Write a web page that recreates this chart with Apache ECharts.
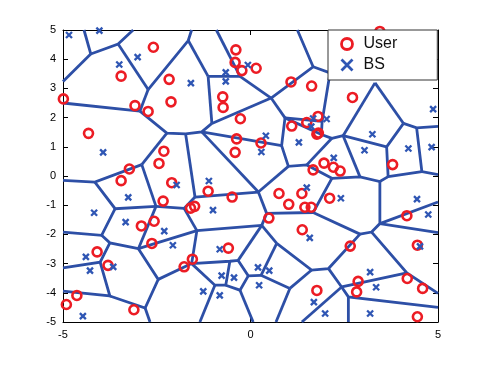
<!DOCTYPE html>
<html>
<head>
<meta charset="utf-8">
<script src="https://cdn.jsdelivr.net/npm/echarts@6/dist/echarts.min.js"></script>
<style>html,body{margin:0;padding:0;background:#fff;}#c{width:485px;height:367px;}</style>
</head>
<body>
<div id="c"></div>
<script>
// ---- data ----
var xTicks = [-5, 0, 5];
var yTicks = [-5, -4, -3, -2, -1, 0, 1, 2, 3, 4, 5];

var users = [
  [-2.59,4.41],[-3.45,3.42],[-2.17,3.31],[-4.99,2.64],[-2.12,2.54],[-3.08,2.41],[-2.73,2.21],
  [-4.32,1.46],[-2.31,0.85],[-2.44,0.43],[-3.23,0.24],[-0.39,4.32],[-0.41,3.89],[-0.23,3.61],
  [0.15,3.69],[-0.74,2.71],[-0.73,2.35],[-0.27,1.96],[-0.37,1.27],[-0.41,0.81],[1.08,3.22],
  [1.63,3.08],[2.72,2.69],[3.45,4.95],[1.80,2.04],[1.50,1.83],[1.10,1.71],[1.77,1.43],[1.81,1.47],
  [0.28,1.13],[1.67,0.21],[1.96,0.44],[2.21,0.30],[2.39,0.17],[3.79,0.39],
  [-3.45,-0.16],[-2.10,-0.23],[-2.33,-0.86],[-1.60,-1.10],[-1.49,-1.04],[-2.57,-1.55],[-2.91,-1.71],
  [-2.63,-2.31],[-4.09,-2.60],[-3.80,-3.06],[-4.63,-4.09],[-4.91,-4.40],[-3.11,-4.58],[-1.55,-2.85],
  [-1.77,-3.11],[-1.13,-0.52],[-0.49,-0.72],[-0.59,-2.47],[0.76,-0.60],[1.37,-0.60],[1.02,-0.97],
  [1.45,-1.07],[1.62,-1.07],[0.49,-1.44],[1.38,-1.84],[2.11,-0.76],[4.17,-1.36],[4.45,-2.37],
  [2.66,-2.40],[2.87,-3.61],[2.83,-3.97],[1.77,-3.92],[4.18,-3.51],[4.59,-3.85],[4.45,-4.82]
];

var bs = [
  [-4.84,4.83],[-4.03,4.98],[-3.01,4.07],[-3.50,3.82],[-1.59,3.18],[-0.66,3.55],[-0.66,3.24],
  [-0.07,3.80],[-3.93,0.81],[-1.11,-0.17],[1.67,1.97],[2.03,1.95],[1.62,1.69],[0.41,1.38],
  [0.29,0.82],[1.29,1.15],[2.22,0.62],[3.25,1.43],[3.04,0.88],[4.21,0.94],[4.83,0.99],[4.87,2.29],
  [-1.97,-0.31],[-3.26,-0.73],[-4.17,-1.26],[-3.33,-1.58],[-2.30,-1.89],[-2.07,-2.37],[-4.39,-2.77],
  [-4.28,-3.24],[-3.66,-3.11],[-4.47,-4.80],[-1.00,-1.17],[-0.82,-2.51],[-0.77,-3.41],[-0.44,-3.48],
  [-1.26,-3.95],[-0.82,-4.09],[0.20,-3.13],[0.50,-3.24],[0.23,-3.74],[1.50,-0.40],[2.41,-0.76],
  [1.58,-2.12],[4.44,-0.79],[4.74,-1.32],[4.52,-2.41],[3.19,-3.29],[3.35,-3.81],[1.69,-4.32],
  [1.99,-4.71],[3.19,-4.71]
];

// cell-boundary vertices (data units) and the polylines joining them
var vertices = {
  a:[-4.44,5.00], b:[-4.26,4.18], c:[-5.00,3.24], d:[-3.53,4.52], e:[-3.13,5.00], f:[-2.73,2.96],
  g:[-1.66,4.64], h:[-1.57,5.00], i:[-1.13,3.41], j:[-2.95,2.22], k:[-5.00,2.50], l:[-2.23,1.47],
  m:[-1.73,1.44], n:[-1.30,1.51], o:[-1.03,1.80], p:[-2.90,0.39], q:[-4.15,-0.21], r:[-5.00,-0.15],
  s:[-2.52,-1.04], t:[-0.91,5.00], u:[-0.28,3.41], v:[0.55,2.67], w:[1.67,3.74], x:[1.25,5.00],
  y:[2.12,3.53], z:[0.92,1.99], A:[1.91,1.87], B:[1.89,1.42], C:[2.17,1.29], D:[2.47,1.38],
  E:[3.32,3.19], F:[4.08,1.80], G:[3.63,1.00], H:[4.43,1.65], I:[5.00,1.70], J:[4.57,0.15],
  K:[5.00,0.05], L:[3.67,-0.02], M:[3.45,-0.19], N:[2.92,-0.03], O:[2.17,-0.08], P:[0.83,1.04],
  Q:[1.01,0.33], R:[1.50,0.38], S:[0.21,-0.55], T:[-1.48,-0.72], U:[-1.77,-1.11], V:[0.43,-1.28],
  W:[1.67,-1.25], X:[0.30,-1.69], Y:[-1.43,-1.87], Z:[2.92,-1.99], a2:[3.23,-1.92], b2:[3.45,-1.63],
  c2:[5.00,-0.89], d2:[5.00,-1.94], e2:[4.17,-3.32], f2:[5.00,-4.02], g2:[2.43,-3.80], h2:[2.08,-3.17],
  i2:[2.61,-4.14], j2:[5.00,-4.50], k2:[2.61,-5.00], l2:[1.37,-5.00], m2:[1.63,-3.22], n2:[0.70,-2.31],
  o2:[1.05,-3.85], p2:[0.68,-5.00], q2:[0.28,-3.40], r2:[-0.06,-3.42], s2:[-0.33,-2.89], t2:[-0.55,-2.92],
  u2:[-1.57,-3.00], v2:[-0.66,-3.74], w2:[-0.95,-3.74], x2:[-1.35,-5.00], y2:[-0.28,-3.91], z2:[0.07,-5.00],
  a3:[-2.46,-3.54], b3:[-2.99,-2.49], c3:[-3.61,-1.12], d3:[-3.97,-2.03], e3:[-5.00,-1.92], f3:[-3.75,-2.29],
  g3:[-4.01,-2.95], h3:[-5.00,-3.15], i3:[-3.75,-4.11], j3:[-5.00,-3.94], k3:[-2.81,-4.52], l3:[-2.68,-5.00]
};
var edgePaths = [
  'a b','b c','b d e','d f','f g h','g i','f j','k j','j l m n o','l p','p q r','p s','m T',
  't u','i u','i o','u v','o v','v w x','w y','v z','z A','y A B','z B C','C D','R C','D E',
  'E F','F G D','F H I','H J K','J L G','L M N O','N D','z P Q R O','n P','n S','Q S','T S',
  'S V','V W O','W Z','V X','U T','s U','U Y','Y X','Y u2','X s2','X n2','n2 m2 h2 Z','n2 q2',
  'm2 o2','o2 q2','o2 p2','Z a2 b2 M','b2 c2','b2 d2','a2 e2 f2','e2 g2 h2','g2 i2 j2','i2 k2',
  'g2 l2','q2 r2 s2 t2 u2','t2 v2 w2 u2','w2 x2','r2 y2 v2','y2 z2','u2 a3','Y b3','s b3',
  's c3 q','c3 d3 e3','d3 f3 b3','f3 g3 h3','g3 i3 j3','i3 k3 a3 b3','k3 l3'
];

// ---- chart ----
var edgeData = edgePaths.map(function (p) {
  return { coords: p.split(' ').map(function (k) { return vertices[k]; }) };
});
var RED = '#ec1c24', BLUE = '#2d4fa6', XBLUE = '#2f56b4', XPATH = 'path://M0,0L10,10M10,0L0,10';
var FONT = 'Liberation Sans';

function axisBase(pos, showLabel, interval, ticks) {
  return {
    type: 'value', min: ticks[0], max: ticks[ticks.length - 1], interval: interval, position: pos,
    axisLine: { onZero: false, lineStyle: { color: '#000', width: 1 } },
    axisTick: { inside: true, length: 5, lineStyle: { color: '#000' } },
    axisLabel: { show: showLabel, color: '#000', fontSize: 11, fontFamily: FONT, margin: 7 },
    splitLine: { show: false }
  };
}

var chart = echarts.init(document.getElementById('c'), null, { renderer: 'canvas' });
chart.setOption({
  animation: false,
  backgroundColor: '#fff',
  grid: { left: 63, right: 47, top: 30, bottom: 45 },
  xAxis: [axisBase('bottom', true, 5, xTicks), axisBase('top', false, 5, xTicks)],
  yAxis: [axisBase('left', true, 1, yTicks), axisBase('right', false, 1, yTicks)],
  legend: {
    orient: 'vertical', left: 328, top: 30,
    backgroundColor: '#fff', borderColor: '#333', borderWidth: 1, borderRadius: 0,
    padding: [6, 40, 7, 11], itemGap: 5, itemWidth: 11, itemHeight: 11,
    textStyle: { fontSize: 16, fontFamily: FONT, color: '#111', padding: [0, 0, 0, 6] },
    data: [
      { name: 'User', icon: 'circle', itemStyle: { color: '#fff', borderColor: RED, borderWidth: 2.8, opacity: 1 } },
      { name: 'BS', icon: XPATH, itemStyle: { color: 'none', borderColor: XBLUE, borderWidth: 2.8, opacity: 1 } }
    ]
  },
  series: [
    { type: 'lines', name: 'cells', coordinateSystem: 'cartesian2d', polyline: true, silent: true,
      data: edgeData, lineStyle: { color: BLUE, width: 2.8, opacity: 1 }, z: 1 },
    { type: 'scatter', name: 'User', data: users, symbol: 'circle', symbolSize: 9,
      itemStyle: { color: 'rgba(255,255,255,0)', borderColor: RED, borderWidth: 2.6, opacity: 1 }, z: 3 },
    { type: 'scatter', name: 'BS', data: bs, symbol: XPATH, symbolSize: 6,
      itemStyle: { color: 'none', borderColor: XBLUE, borderWidth: 2.3, opacity: 1 }, z: 4 }
  ]
});
</script>
</body>
</html>
